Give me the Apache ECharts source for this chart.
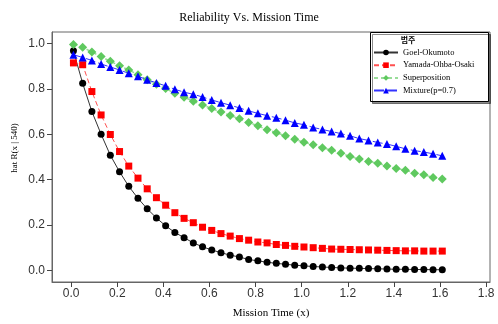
<!DOCTYPE html>
<html>
<head>
<meta charset="utf-8">
<script src="https://cdn.jsdelivr.net/npm/echarts@6/dist/echarts.min.js"></script>
<style>html,body{margin:0;padding:0;background:#fff}#c{width:498px;height:324px}</style>
</head>
<body>
<div id="c"></div>
<script>
const missionTime = [0.01,0.05,0.09,0.13,0.17,0.21,0.25,0.29,0.33,0.37,0.41,0.45,0.49,0.53,0.57,0.61,0.65,0.69,0.73,0.77,0.81,0.85,0.89,0.93,0.97,1.01,1.05,1.09,1.13,1.17,1.21,1.25,1.29,1.33,1.37,1.41,1.45,1.49,1.53,1.57,1.61];
const goelOkumoto = [0.967,0.824,0.700,0.600,0.508,0.435,0.371,0.318,0.272,0.232,0.197,0.168,0.145,0.122,0.105,0.091,0.079,0.068,0.060,0.049,0.043,0.037,0.032,0.028,0.024,0.021,0.018,0.016,0.014,0.012,0.011,0.010,0.009,0.008,0.007,0.006,0.006,0.005,0.005,0.004,0.004];
const yamadaOhbaOsaki = [0.914,0.906,0.788,0.685,0.599,0.524,0.460,0.407,0.360,0.321,0.288,0.255,0.230,0.211,0.191,0.177,0.163,0.152,0.141,0.134,0.126,0.122,0.115,0.111,0.107,0.104,0.101,0.098,0.095,0.094,0.093,0.092,0.091,0.090,0.089,0.088,0.087,0.087,0.086,0.086,0.086];
const superposition = [0.995,0.983,0.962,0.942,0.921,0.902,0.883,0.862,0.840,0.820,0.801,0.780,0.763,0.745,0.729,0.713,0.698,0.683,0.668,0.652,0.637,0.620,0.607,0.593,0.578,0.565,0.554,0.541,0.530,0.517,0.502,0.491,0.480,0.473,0.460,0.449,0.442,0.429,0.422,0.410,0.403];
const mixture = [0.950,0.938,0.925,0.909,0.896,0.883,0.868,0.855,0.840,0.826,0.813,0.798,0.785,0.776,0.764,0.751,0.739,0.728,0.716,0.703,0.692,0.682,0.673,0.662,0.650,0.642,0.630,0.621,0.612,0.603,0.593,0.581,0.573,0.564,0.557,0.547,0.536,0.528,0.522,0.514,0.505];
const xTicks = [0,0.2,0.4,0.6,0.8,1.0,1.2,1.4,1.6,1.8];
const yTicks = [0,0.2,0.4,0.6,0.8,1.0];
const seriesNames = ['Goel-Okumoto','Yamada-Ohba-Osaki','Superposition','Mixture(p=0.7)'];

const pair = arr => missionTime.map((x,i)=>[x,arr[i]]);
const serif = 'Liberation Serif';
const chart = echarts.init(document.getElementById('c'), null, {renderer:'canvas'});
chart.setOption({
  animation:false,
  backgroundColor:'#fff',
  title:{text:'Reliability Vs. Mission Time',left:'center',top:7,
    textStyle:{fontFamily:serif,fontSize:12,fontWeight:'normal',color:'#000'}},
  grid:{left:52,top:32,right:8,bottom:37,show:true,borderColor:'#666',borderWidth:1,backgroundColor:'#fff'},
  xAxis:{type:'value',min:-0.083,max:1.817,
    name:'Mission Time (x)',nameLocation:'middle',nameGap:26,
    nameTextStyle:{fontFamily:serif,fontSize:11,color:'#000'},
    axisLine:{show:true,onZero:false,lineStyle:{color:'#666'}},
    axisTick:{show:true,length:5,customValues:xTicks,lineStyle:{color:'#444'}},
    axisLabel:{customValues:xTicks,margin:6,fontFamily:'Liberation Sans',fontSize:12,color:'#333',
      formatter:v=>v.toFixed(1)},
    splitLine:{show:false}},
  yAxis:{type:'value',min:-0.05,max:1.05,
    axisLine:{show:true,onZero:false,lineStyle:{color:'#666'}},
    axisTick:{show:true,length:5,customValues:yTicks,lineStyle:{color:'#444'}},
    axisLabel:{customValues:yTicks,margin:7,fontFamily:'Liberation Sans',fontSize:12,color:'#333',
      formatter:v=>v.toFixed(1)},
    splitLine:{show:false}},
  legend:{orient:'vertical',left:372,top:47,itemWidth:24,itemHeight:7,itemGap:3.7,padding:[1,1,1,1],
    data:seriesNames,
    textStyle:{fontFamily:serif,fontSize:8.5,color:'#000',lineHeight:9}},
  graphic:[
    {type:'rect',shape:{x:370.5,y:32.5,width:118,height:69},z:0,
      style:{fill:'#fff',stroke:'#000',lineWidth:1,shadowColor:'rgba(0,0,0,0.45)',shadowOffsetX:2,shadowOffsetY:2}},
    {type:'text',x:408,y:40,z:1,style:{text:'범주',fontFamily:'Noto Sans CJK KR',fontSize:8,fontWeight:'bold',fill:'#000',align:'center',verticalAlign:'middle'}},
    {type:'text',x:15,y:148,rotation:Math.PI/2,z:1,style:{text:'hat R(x | 540)',fontFamily:serif,fontSize:9,fill:'#000',align:'center',verticalAlign:'middle'}}
  ],
  series:[
    {name:seriesNames[0],type:'line',data:pair(goelOkumoto),symbol:'circle',symbolSize:7,
      lineStyle:{color:'#333',width:1},itemStyle:{color:'#000'},color:'#000'},
    {name:seriesNames[1],type:'line',data:pair(yamadaOhbaOsaki),symbol:'rect',symbolSize:7,
      lineStyle:{color:'#ff5050',width:1,type:[5,3]},itemStyle:{color:'#ff0000'},color:'#ff0000'},
    {name:seriesNames[2],type:'line',data:pair(superposition),symbol:'diamond',symbolSize:9,
      lineStyle:{color:'#99dd99',width:1.5,type:[4,3]},itemStyle:{color:'#5fc95f'},color:'#5fc95f'},
    {name:seriesNames[3],type:'line',data:pair(mixture),symbol:'triangle',symbolSize:8,
      lineStyle:{color:'#3333ff',width:1,type:[10,3]},itemStyle:{color:'#0000ff'},color:'#0000ff'}
  ]
});
</script>
</body>
</html>
